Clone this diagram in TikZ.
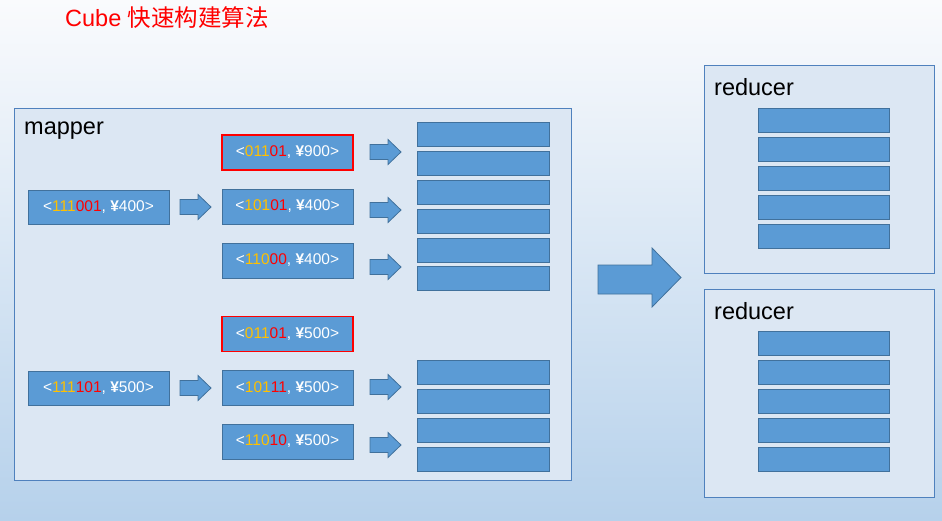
\documentclass[tikz,border=0pt]{standalone}
\usepackage{fontspec}
\setmainfont{Liberation Sans}
\newfontfamily\cjk{Noto Sans CJK SC}
\definecolor{barfill}{HTML}{5B9BD5}
\definecolor{barline}{HTML}{41719C}
\definecolor{panelfill}{HTML}{DCE7F3}
\definecolor{panelline}{HTML}{4F81BD}
\definecolor{yel}{HTML}{FFC000}
\definecolor{hotred}{HTML}{FF0000}
\definecolor{bgtop}{HTML}{FAFBFD}
\definecolor{bgbot}{HTML}{B6D1EB}
\newcommand{\Y}[1]{\textcolor{yel}{#1}}
\newcommand{\R}[1]{\textcolor{hotred}{#1}}
\tikzset{
  panel/.style={draw=panelline, fill=panelfill, line width=0.8pt},
  kvbox/.style={draw=barline, fill=barfill, line width=0.8pt, text=white, font=\fontsize{15.5}{18}\selectfont, minimum width=131pt, minimum height=35pt, inner sep=0pt},
  hot/.style={draw=hotred, line width=1.6pt},
  bar/.style={draw=barline, fill=barfill, line width=0.8pt, minimum width=132pt, minimum height=24pt, inner sep=0pt},
  blk/.style={draw=barline, fill=barfill, line width=0.8pt},
  lbl/.style={anchor=west, font=\fontsize{23.5}{26}\selectfont, inner sep=0pt}
}
\newcommand{\smallarrow}[3]{% name, x, y(center)
  \coordinate (#1) at (#2,#3);
  \draw[blk] (#2,#3-7.5) -- ++(18,0) -- ++(0,-5) -- ++(13,12.5) -- ++(-13,12.5) -- ++(0,-5) -- ++(-18,0) -- cycle;}
\begin{document}
\begin{tikzpicture}[x=1pt,y=-1pt]
\shade[top color=bgtop, bottom color=bgbot] (0,0) rectangle (942,520);
\useasboundingbox (0,0) rectangle (942,520);
% title
\node[anchor=west, inner sep=0pt, text=hotred, font=\fontsize{23.5}{26}\selectfont] (title) at (65,18) {Cube {\cjk 快速构建算法}};
% panels
\draw[panel] (14,108) rectangle (571,480);
\node[lbl] (maplbl) at (24,131) {mapper};
\draw[panel] (704,65) rectangle (934,273);
\node[lbl] (red1lbl) at (714,87) {reducer};
\draw[panel] (704,289) rectangle (934,497);
\node[lbl] (red2lbl) at (714,311) {reducer};
% left input boxes
\node[kvbox, minimum width=141pt, minimum height=34pt] (in1) at (98.5,207) {<\Y{111}\R{001}, {\bfseries ¥}400>};
\node[kvbox, minimum width=141pt, minimum height=34pt] (in2) at (98.5,388) {<\Y{111}\R{101}, {\bfseries ¥}500>};
% middle boxes
\node[kvbox, hot] (m1) at (287.5,152.5) {<\Y{011}\R{01}, {\bfseries ¥}900>};
\node[kvbox] (m2) at (287.5,206.5) {<\Y{101}\R{01}, {\bfseries ¥}400>};
\node[kvbox] (m3) at (287.5,260.5) {<\Y{110}\R{00}, {\bfseries ¥}400>};
\node[kvbox, hot] (m4) at (287.5,334) {<\Y{011}\R{01}, {\bfseries ¥}500>};
\node[kvbox] (m5) at (287.5,388) {<\Y{101}\R{11}, {\bfseries ¥}500>};
\node[kvbox] (m6) at (287.5,441.5) {<\Y{110}\R{10}, {\bfseries ¥}500>};
% right bars in mapper
\foreach \n/\y in {1/134.5,2/163,3/192.5,4/221,5/250,6/278,7/372,8/401,9/430,10/459}
  \node[bar] (rb\n) at (483,\y) {};
% reducer bars
\foreach \n/\y in {1/120,2/149,3/178,4/207,5/236}
  \node[bar, minimum width=131pt] (ra\n) at (823.5,\y) {};
\foreach \n/\y in {1/343,2/372,3/401,4/430,5/459}
  \node[bar, minimum width=131pt] (rc\n) at (823.5,\y) {};
% small arrows
\smallarrow{a1}{180}{207}
\smallarrow{a2}{180}{388}
\smallarrow{a3}{370}{152}
\smallarrow{a4}{370}{210}
\smallarrow{a5}{370}{267}
\smallarrow{a6}{370}{387}
\smallarrow{a7}{370}{445}
% big arrow
\coordinate (big) at (598,279.5);
\draw[blk] (598,265) -- (652,265) -- (652,248) -- (681,277.5) -- (652,307) -- (652,294) -- (598,294) -- cycle;
\end{tikzpicture}
\end{document}
